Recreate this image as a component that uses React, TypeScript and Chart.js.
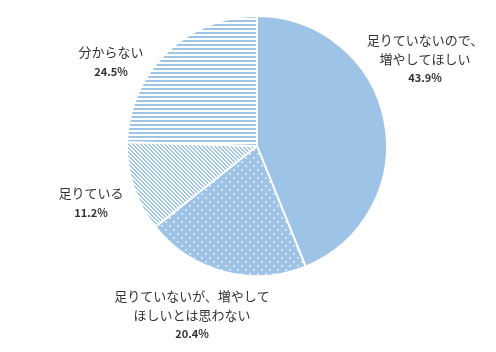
import React, { useEffect, useRef } from "react";
import { Chart, registerables } from "chart.js";

Chart.register(...registerables);

const categories: string[][] = [
  ["足りていないので、", "増やしてほしい"],
  ["足りていないが、増やして", "ほしいとは思わない"],
  ["足りている"],
  ["分からない"],
];
const values: number[] = [43.9, 20.4, 11.2, 24.5];
const percentLabels: string[] = ["43.9%", "20.4%", "11.2%", "24.5%"];
// label block centre offsets from the pie centre, in px (style only)
const labelOffsets: number[][] = [
  [168, -87],
  [-65, 169],
  [-166, 57],
  [-146, -84],
];

const BLUE = "#9DC3E6";

function makePattern(kind: string): CanvasPattern | string {
  const c = document.createElement("canvas");
  const ctx = c.getContext("2d")!;
  if (kind === "solid") return BLUE;
  if (kind === "dots") {
    c.width = 8;
    c.height = 8;
    ctx.fillStyle = BLUE;
    ctx.fillRect(0, 0, 8, 8);
    ctx.fillStyle = "#d6e6f5";
    ctx.fillRect(1, 1, 2, 2);
    ctx.fillRect(5, 5, 2, 2);
  } else if (kind === "diag") {
    c.width = 4;
    c.height = 4;
    ctx.fillStyle = "#ffffff";
    ctx.fillRect(0, 0, 4, 4);
    ctx.fillStyle = BLUE;
    for (let y = 0; y < 4; y++) {
      for (let x = 0; x < 4; x++) {
        const m = (((x - y) % 4) + 4) % 4;
        if (m === 0 || m === 1) ctx.fillRect(x, y, 1, 1);
      }
    }
  } else {
    c.width = 4;
    c.height = 4;
    ctx.fillStyle = "#ffffff";
    ctx.fillRect(0, 0, 4, 4);
    ctx.fillStyle = BLUE;
    ctx.fillRect(0, 0, 4, 2);
  }
  return ctx.createPattern(c, "repeat")!;
}

const labelPlugin = {
  id: "pieLabels",
  afterDraw(chart: any) {
    const ctx = chart.ctx;
    const meta = chart.getDatasetMeta(0);
    const arc0 = meta.data[0];
    const cx = arc0.x;
    const cy = arc0.y;
    const lineH = 19;
    ctx.save();
    ctx.textAlign = "center";
    ctx.textBaseline = "middle";
    ctx.fillStyle = "#333333";
    meta.data.forEach((_a: any, i: number) => {
      const lines = categories[i];
      const total = lines.length + 1;
      const bx = cx + labelOffsets[i][0];
      const by = cy + labelOffsets[i][1];
      const top = by - ((total - 1) * lineH) / 2;
      ctx.font = '13px "Noto Sans CJK JP", sans-serif';
      lines.forEach((t, j) => ctx.fillText(t, bx, top + j * lineH));
      ctx.font = 'bold 11px "Noto Sans CJK JP", sans-serif';
      ctx.fillText(percentLabels[i], bx, top + lines.length * lineH);
    });
    ctx.restore();
  },
};

export default function App() {
  const ref = useRef<HTMLCanvasElement>(null);
  useEffect(() => {
    const canvas = ref.current!;
    const fills = [
      makePattern("solid"),
      makePattern("dots"),
      makePattern("diag"),
      makePattern("horiz"),
    ];
    const chart = new Chart(canvas, {
      type: "pie",
      data: {
        labels: categories.map((l) => l.join("")),
        datasets: [
          {
            data: values,
            backgroundColor: fills as any,
            borderColor: "#ffffff",
            borderWidth: 2,
          },
        ],
      },
      options: {
        responsive: false,
        animation: false,
        layout: { padding: { left: 126, right: 108, top: 15, bottom: 75 } },
        plugins: { legend: { display: false }, tooltip: { enabled: false } },
      },
      plugins: [labelPlugin],
    });
    return () => chart.destroy();
  }, []);
  return (
    <div style={{ position: "fixed", left: 0, top: 0, width: 496, height: 352, background: "#fff" }}>
      <canvas ref={ref} width={496} height={352} style={{ display: "block" }} />
    </div>
  );
}
